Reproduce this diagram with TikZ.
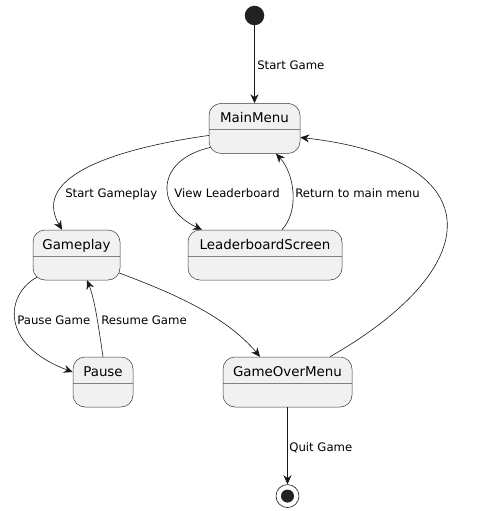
\documentclass[tikz,border=0pt]{standalone}
\usepackage{fontspec}
\setmainfont{DejaVu Sans}
\usetikzlibrary{arrows.meta,positioning}
\definecolor{stateBg}{HTML}{F1F1F1}
\definecolor{stateLine}{HTML}{181818}
\definecolor{dotFill}{HTML}{222222}

\begin{document}
\begin{tikzpicture}[x=1pt, y=-1pt,
	state/.style={draw=stateLine!85, fill=stateBg, line width=0.5pt, rounded corners=12pt, minimum height=50pt, inner xsep=0pt, inner ysep=6.5pt, text height=13pt, text depth=24pt, font=\fontsize{13.4}{15}\selectfont,
		path picture={\draw[stateLine!55, line width=0.45pt] ([yshift=-26pt]path picture bounding box.north west) -- ([yshift=-26pt]path picture bounding box.north east);}},
	initial/.style={circle, fill=dotFill, minimum size=19.5pt, inner sep=0pt},
	final/.style={circle, draw=stateLine, line width=0.6pt, minimum size=23pt, inner sep=0pt,
		path picture={\fill[dotFill] (path picture bounding box.center) circle (6.5pt);}},
	trans/.style={draw=stateLine, line width=0.6pt, -{Stealth[length=9pt, width=8pt, inset=3pt]}},
	lbl/.style={font=\fontsize{11.7}{14}\selectfont, anchor=base west, inner sep=0pt, text=black}]
	\useasboundingbox (0,0) rectangle (488,511);
	
	\node[initial] (start) at (254.5,15.5) {};
	\node[state, minimum width=91pt, below=77.75pt of start] (main) {MainMenu};
	\node[state, minimum width=87pt] (game) at (76.5,255) {Gameplay};
	\node[state, minimum width=154pt] (lead) at (265,255) {LeaderboardScreen};
	\node[state, minimum width=60pt] (pause) at (103,382) {Pause};
	\node[state, minimum width=129pt] (over) at (287.5,382) {GameOverMenu};
	\node[final, below=77pt of over] (end) {};
	
	\draw[trans] (start) -- (main) node[lbl] (lStart) at (257,70) {Start Game};
	\draw[trans] ([yshift=-7pt]main.west) .. controls (120,148) and (30,175) .. ([xshift=-14.5pt]game.north) node[lbl] (lPlay) at (65,197.5) {Start Gameplay};
	\draw[trans] ([xshift=1.6pt, yshift=-19pt]main.west) .. controls (155,160) and (155,208) .. ([xshift=-63pt]lead.north) node[lbl] (lView) at (174,197.5) {View Leaderboard};
	\draw[trans] ([xshift=17pt]lead.north) .. controls (300,210) and (294,173) .. ([xshift=21.5pt]main.south) node[lbl] (lBack) at (295,197.5) {Return to main menu};
	\draw[trans] ([xshift=42.5pt]over.north) .. controls (495,262) and (485,158) .. ([yshift=-9pt]main.east);
	\draw[trans] ([xshift=4pt, yshift=3pt]game.south west) .. controls (5,295) and (0,345) .. ([yshift=10pt]pause.west) node[lbl] (lPause) at (17,324) {Pause Game};
	\draw[trans] (pause.north) .. controls (99,330) and (95,300) .. ([xshift=10.5pt]game.south) node[lbl] (lResume) at (101,324) {Resume Game};
	\draw[trans] ([xshift=-1pt, yshift=-18pt]game.east) .. controls (170,292) and (225,315) .. ([xshift=-27.5pt]over.north);
	\draw[trans] (over) -- (end) node[lbl] (lQuit) at (289,451) {Quit Game};
\end{tikzpicture}
\end{document}
